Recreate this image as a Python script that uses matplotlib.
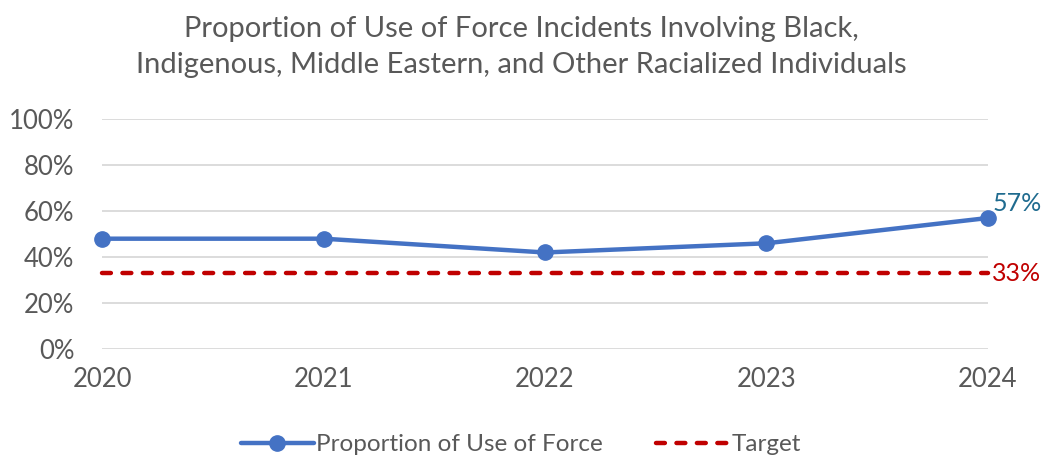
import matplotlib.pyplot as plt
from matplotlib.ticker import PercentFormatter

years = ['2020', '2021', '2022', '2023', '2024']
use_of_force = [48, 48, 42, 46, 57]
target = [33, 33, 33, 33, 33]

plt.rcParams['font.family'] = ['Lato', 'DejaVu Sans']
grey = '#595959'

fig = plt.figure(figsize=(10.42, 4.55), dpi=100)
ax = fig.add_axes([0.098, 0.233, 0.850, 0.505])

x = range(len(years))
ax.plot(x, use_of_force, color='#4472C4', lw=3.2, marker='o', ms=11,
        label='Proportion of Use of Force', solid_capstyle='round',
        clip_on=False, zorder=3)
ax.plot(x, target, color='#C00000', lw=3.2, ls=(0, (2.0, 2.6)),
        dash_capstyle='round', label='Target', clip_on=False, zorder=2)

ax.text(x[-1] + 0.02, use_of_force[-1] + 1.5, f'{use_of_force[-1]}%',
        color='#1F6B8F', fontsize=18, ha='left', va='bottom')
ax.text(x[-1] + 0.02, target[-1], f'{target[-1]}%',
        color='#C00000', fontsize=18, ha='left', va='center')

ax.set_xlim(0, len(years) - 1)
ax.set_ylim(0, 100)
ax.set_yticks(range(0, 101, 20))
ax.yaxis.set_major_formatter(PercentFormatter(decimals=0))
ax.set_xticks(list(x))
ax.set_xticklabels(years)
ax.tick_params(colors=grey, labelsize=18.5, length=0)
ax.tick_params(axis='x', pad=13)
ax.tick_params(axis='y', pad=20)
ax.grid(axis='y', color='#D9D9D9', lw=1.3)
for s in ax.spines.values():
    s.set_visible(False)

fig.text(0.5, 0.965, 'Proportion of Use of Force Incidents Involving Black,\n'
         'Indigenous, Middle Eastern, and Other Racialized Individuals',
         ha='center', va='top', fontsize=21, color=grey, linespacing=1.5)

fig.legend(loc='center', bbox_to_anchor=(0.5, 0.022), ncol=2, frameon=False,
           fontsize=17.5, labelcolor=grey, handlelength=3.0, columnspacing=2.2,
           handletextpad=0.1)

fig.savefig('out.png', dpi=100)
